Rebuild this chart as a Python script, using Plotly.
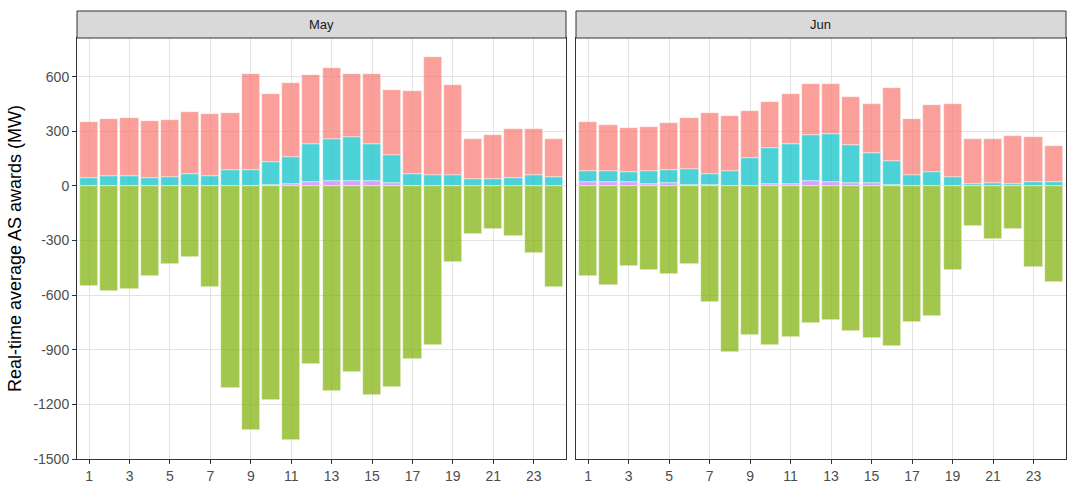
import plotly.graph_objects as go

hours = list(range(1, 25))
months = ["May", "Jun"]
x_ticks = list(range(1, 25, 2))
y_ticks = [-1500, -1200, -900, -600, -300, 0, 300, 600]

# MW values per hour (stack order from zero upward: purple, cyan, red; green below zero)
may_nonspin = [0, 0, 0, 0, 0, 0, 0, 0, 0, 4, 9, 20, 24, 24, 24, 13, 0, 0, 0, 0, 0, 0, 0, 0]
may_spin = [44, 53, 53, 44, 49, 63, 53, 88, 88, 126, 149, 209, 236, 242, 205, 156, 66, 57, 57, 35, 38, 44, 57, 49]
may_regup = [308, 313, 319, 313, 312, 342, 341, 310, 527, 376, 406, 378, 387, 349, 383, 355, 453, 650, 496, 220, 241, 268, 258, 209]
may_regdown = [-549, -578, -567, -497, -430, -393, -558, -1112, -1341, -1176, -1394, -977, -1127, -1022, -1149, -1107, -953, -874, -419, -263, -236, -276, -371, -558]

jun_nonspin = [20, 20, 20, 9, 16, 4, 4, 0, 0, 9, 9, 24, 20, 13, 15, 4, 0, 0, 0, 0, 0, 0, 0, 0]
jun_spin = [61, 64, 57, 72, 72, 88, 62, 81, 152, 200, 222, 254, 264, 209, 168, 132, 59, 77, 46, 9, 13, 9, 20, 20]
jun_regup = [269, 248, 240, 241, 258, 278, 332, 300, 258, 249, 274, 281, 275, 267, 266, 403, 307, 365, 403, 249, 242, 264, 249, 198]
jun_regdown = [-497, -545, -439, -463, -483, -428, -640, -915, -818, -876, -832, -752, -737, -796, -838, -878, -746, -717, -463, -223, -291, -238, -446, -529]

series_names = ["Non-spinning reserve", "Spinning reserve", "Regulation up", "Regulation down"]
colors = ["rgba(199,124,255,0.7)", "rgba(0,191,196,0.7)", "rgba(248,118,109,0.7)", "rgba(124,174,0,0.7)"]

data = {
    "May": [may_nonspin, may_spin, may_regup, may_regdown],
    "Jun": [jun_nonspin, jun_spin, jun_regup, jun_regdown],
}

fig = go.Figure()
for i, m in enumerate(months):
    xa = "x" if i == 0 else "x2"
    ya = "y" if i == 0 else "y2"
    for name, col, vals in zip(series_names, colors, data[m]):
        fig.add_trace(go.Bar(
            x=hours, y=vals, name=name, xaxis=xa, yaxis=ya,
            width=0.9, showlegend=False,
            marker=dict(color=col, line=dict(color="rgba(255,255,255,0.8)", width=0.6)),
        ))

W, H = 1067, 484
left, right, top, bottom = 77, 1, 38, 25
pw = W - left - right
ph = H - top - bottom
gap = 10
d1_end = (489) / pw
d2_start = (489 + gap) / pw

FONT = "Liberation Sans, Arial, sans-serif"
tick_font = dict(family=FONT, size=14, color="#4D4D4D")
common_x = dict(
    range=[0.4, 24.6], tickvals=x_ticks, ticktext=[str(t) for t in x_ticks],
    showgrid=True, gridcolor="#E3E3E3", gridwidth=0.8, zeroline=False,
    showline=True, linecolor="#333333", linewidth=1, mirror=True,
    ticks="outside", ticklen=4, tickcolor="#333333", tickwidth=1,
    tickfont=tick_font, automargin=False,
)
common_y = dict(
    range=[-1500, 812], tickvals=y_ticks, ticktext=[str(t) for t in y_ticks],
    showgrid=True, gridcolor="#E3E3E3", gridwidth=0.8, zeroline=False,
    showline=True, linecolor="#333333", linewidth=1, mirror=True,
    ticks="outside", ticklen=4, tickcolor="#333333", tickwidth=1,
    tickfont=tick_font, automargin=False,
)

fig.update_layout(
    width=W, height=H,
    margin=dict(l=left, r=right, t=top, b=bottom, pad=0, autoexpand=False),
    paper_bgcolor="white", plot_bgcolor="white",
    barmode="relative", bargap=0,
    font=dict(family=FONT),
    xaxis=dict(domain=[0, d1_end], anchor="y", **common_x),
    xaxis2=dict(domain=[d2_start, 1], anchor="y2", **common_x),
    yaxis=dict(anchor="x",
               title=dict(text="Real-time average AS awards (MW)",
                          font=dict(family=FONT, size=18, color="black"),
                          standoff=7),
               **common_y),
    yaxis2=dict(anchor="x2", matches="y", **common_y),
)
fig.update_layout(yaxis2=dict(ticks="", showticklabels=False))

# facet strips
strip_h = 27 / ph
for i, m in enumerate(months):
    x0, x1 = (0, d1_end) if i == 0 else (d2_start, 1)
    fig.add_shape(type="rect", xref="paper", yref="paper", x0=x0, x1=x1, y0=1, y1=1 + strip_h,
                  fillcolor="#D9D9D9", line=dict(color="#333333", width=1), layer="above")
    fig.add_annotation(xref="paper", yref="paper", x=(x0 + x1) / 2, y=1 + strip_h / 2,
                       text=m, showarrow=False, xanchor="center", yanchor="middle",
                       font=dict(family=FONT, size=13, color="#1A1A1A"))

fig.write_html("out.html", config={"displayModeBar": False},
               post_script="document.body.style.margin='0';document.body.style.overflow='hidden';")
